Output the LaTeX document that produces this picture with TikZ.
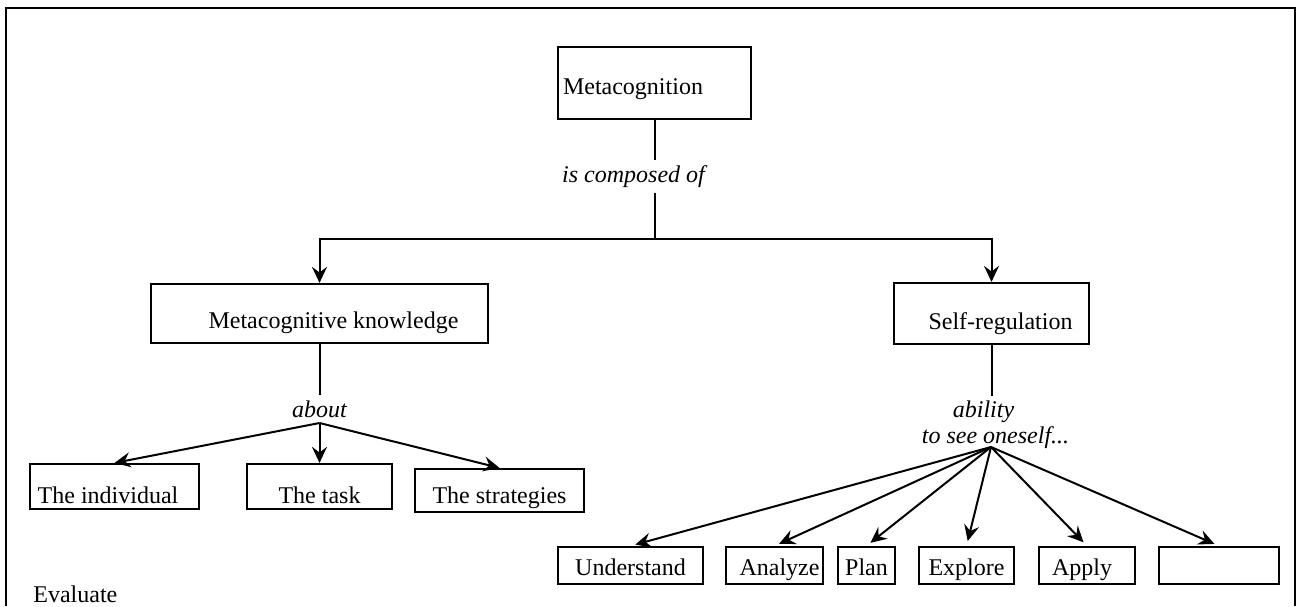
\documentclass[tikz,border=0pt]{standalone}
\usepackage{fontspec}
\setmainfont{Liberation Serif}
\usetikzlibrary{arrows.meta}

\begin{document}
\begin{tikzpicture}[x=0.5pt, y=-0.5pt,
    every node/.style={font=\fontsize{12pt}{13pt}\selectfont},
    box/.style={draw, line width=1.1pt, inner sep=0pt, text depth=0pt},
    lab/.style={inner xsep=0pt, inner ysep=2.5pt, font=\fontsize{12pt}{13pt}\selectfont\itshape},
    link/.style={line width=1pt},
    arr/.style={line width=1pt, -{Stealth[length=8pt, width=7.5pt, inset=2.8pt]}},
    frame/.style={line width=1.4pt}]
    \useasboundingbox (0,0) rectangle (1299,606);
    % outer frame, open at the bottom
    \draw[frame] (6,606) -- (6,8) -- (1295,8) -- (1295,606);

    % top concept
    \node[box, minimum width=96.5pt, minimum height=36pt, text width=91.5pt, inner xsep=2.5pt,
          align=left, text height=11.3pt] (meta) at (654.5,83) {Metacognition};
    \node[lab, anchor=base] (comp) at (633.5,182) {is composed of};
    \coordinate (split) at (654.5,239);
    \draw[link] (meta.south) -- (meta.south |- comp.north);
    \draw[link] (meta.south |- comp.south) -- (split);

    % the two parts
    \node[box, minimum width=168.5pt, minimum height=29.5pt, text height=15pt] (mk) at (319.5,313.5)
        {\hspace*{14pt}Metacognitive knowledge};
    \node[box, minimum width=97.5pt, minimum height=30.5pt, text height=15.5pt] (sr) at (991.5,313.5)
        {\hspace*{9pt}Self-regulation};
    \draw[arr] (split) -| (mk.north);
    \draw[arr] (split) -| (sr.north);

    % left branch
    \node[lab, anchor=base] (about) at (319.5,417) {about};
    \coordinate (fanL) at (319.5,423);
    \draw[link] (mk) -- (about);
    \node[box, minimum width=84.5pt, minimum height=22.5pt, text height=16.5pt] (ind) at (114.5,486.5)
        {The individual\hspace*{6.5pt}};
    \node[box, minimum width=72.5pt, minimum height=22.5pt, text height=16.5pt] (task) at (319.5,486.5)
        {The task};
    \node[box, minimum width=84.5pt, minimum height=21.5pt, text height=13pt] (strat) at (499.5,490.5)
        {The strategies};
    \foreach \n in {ind,task,strat}
        \draw[arr] (fanL) -- (\n.north);

    % right branch
    \node[lab, anchor=north, align=center] (able) at (995.5,395.6)
        {ability\hspace*{12pt}\\to see oneself...};
    \coordinate (fanR) at (991,447);
    \draw[link] (sr.south) -- (sr.south |- able.north);
    \foreach \n/\x/\w/\t in {und/630.5/145/Understand, ana/774.5/97/\hspace*{5pt}Analyze,
                             plan/866.5/57/Plan, expl/966.5/95/Explore,
                             app/1087/96/Apply\hspace*{5pt}, blank/1219/120/{}}
    {
        \node[box, minimum width=\w*0.5pt, minimum height=18.5pt, text height=9.5pt] (\n) at (\x,565.5) {\t};
        \draw[arr, shorten >=2.5pt] (fanR) -- (\n.north);
    }

    \node[anchor=base west, inner sep=0pt] (eval) at (33,602) {Evaluate};
\end{tikzpicture}
\end{document}
